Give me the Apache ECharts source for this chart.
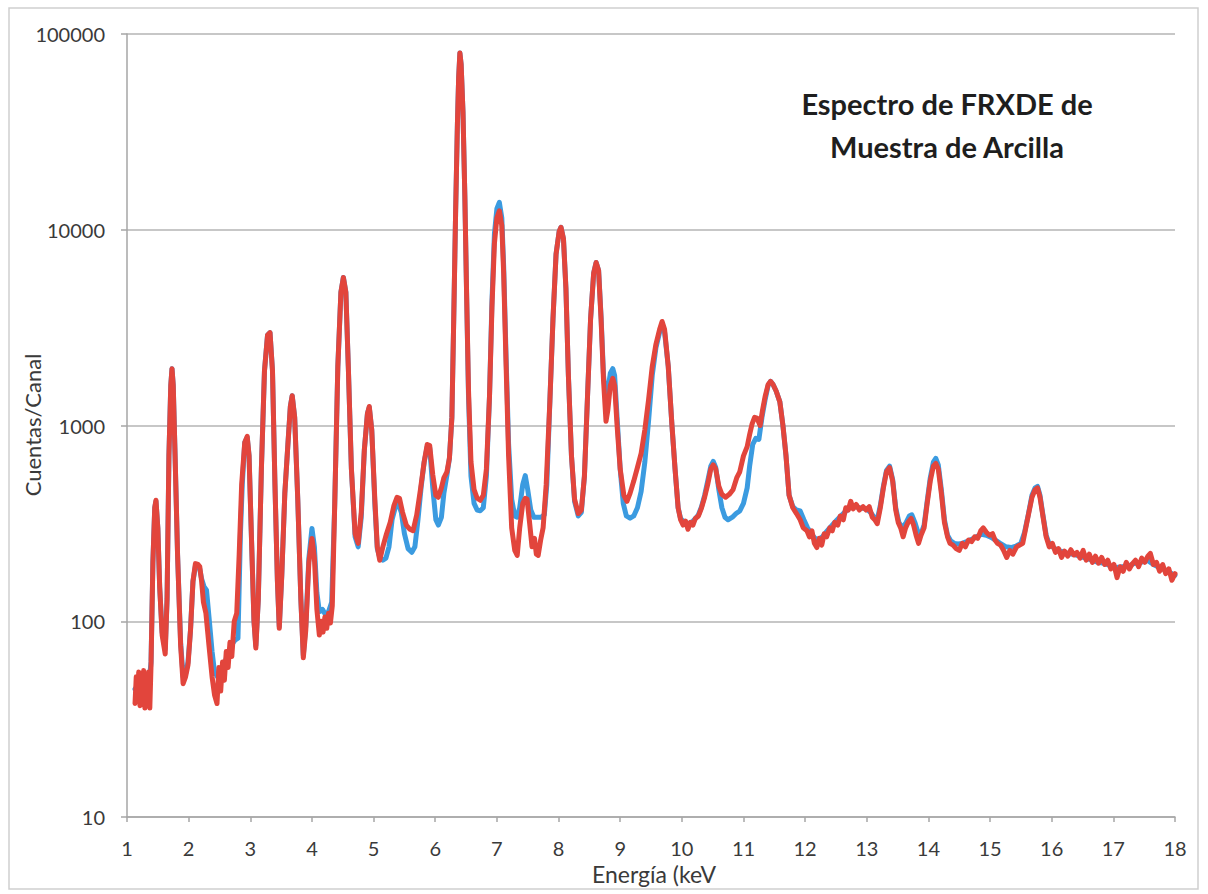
<!DOCTYPE html>
<html>
<head>
<meta charset="utf-8">
<title>Espectro de FRXDE de Muestra de Arcilla</title>
<script src="https://cdn.jsdelivr.net/npm/echarts@6/dist/echarts.min.js"></script>
<style>
  html, body { margin: 0; padding: 0; background: #ffffff; }
  #chart { width: 1208px; height: 894px; }
</style>
</head>
<body>
<div id="chart"></div>
<script>
// Energy axis ticks (keV) and count axis decades
const ticksEnergia = [1, 2, 3, 4, 5, 6, 7, 8, 9, 10, 11, 12, 13, 14, 15, 16, 17, 18];
const ticksCuentas = [10, 100, 1000, 10000, 100000];

// Blue spectrum: energy (keV) and counts per channel
const energiaAzul = [
  1.13, 1.20, 1.27, 1.35, 1.39, 1.42, 1.45, 1.47, 1.50, 1.53, 1.57, 1.62, 1.65, 1.68, 1.71, 1.73, 1.75, 1.78, 1.82, 1.87,
  1.91, 1.95, 1.99, 2.03, 2.07, 2.11, 2.15, 2.18, 2.21, 2.25, 2.29, 2.33, 2.38, 2.42, 2.47, 2.53, 2.59, 2.65, 2.70, 2.75,
  2.80, 2.84, 2.87, 2.91, 2.95, 2.98, 3.02, 3.06, 3.09, 3.13, 3.18, 3.23, 3.28, 3.32, 3.36, 3.40, 3.44, 3.47, 3.51, 3.56,
  3.61, 3.65, 3.68, 3.72, 3.77, 3.82, 3.86, 3.90, 3.95, 4.00, 4.04, 4.08, 4.12, 4.17, 4.22, 4.27, 4.32, 4.37, 4.42, 4.47,
  4.51, 4.55, 4.59, 4.64, 4.70, 4.75, 4.80, 4.85, 4.90, 4.93, 4.97, 5.02, 5.06, 5.10, 5.15, 5.20, 5.25, 5.30, 5.35, 5.40,
  5.45, 5.50, 5.56, 5.62, 5.67, 5.72, 5.77, 5.82, 5.87, 5.91, 5.96, 6.01, 6.05, 6.10, 6.14, 6.19, 6.23, 6.27, 6.30, 6.33,
  6.36, 6.38, 6.40, 6.42, 6.45, 6.48, 6.51, 6.54, 6.58, 6.63, 6.68, 6.73, 6.78, 6.83, 6.88, 6.92, 6.96, 7.00, 7.04, 7.08,
  7.11, 7.15, 7.19, 7.24, 7.29, 7.33, 7.37, 7.42, 7.46, 7.50, 7.55, 7.60, 7.66, 7.72, 7.77, 7.81, 7.86, 7.91, 7.96, 8.01,
  8.04, 8.08, 8.12, 8.16, 8.21, 8.26, 8.32, 8.37, 8.42, 8.47, 8.52, 8.57, 8.61, 8.65, 8.69, 8.73, 8.77, 8.80, 8.84, 8.88,
  8.91, 8.95, 9.00, 9.05, 9.10, 9.16, 9.22, 9.28, 9.34, 9.40, 9.46, 9.52, 9.58, 9.64, 9.68, 9.72, 9.78, 9.84, 9.89, 9.94,
  9.98, 10.04, 10.10, 10.16, 10.22, 10.27, 10.32, 10.37, 10.42, 10.47, 10.51, 10.55, 10.60, 10.65, 10.70, 10.75, 10.82, 10.88, 10.94, 11.00,
  11.06, 11.10, 11.15, 11.20, 11.25, 11.30, 11.35, 11.40, 11.44, 11.48, 11.53, 11.59, 11.64, 11.69, 11.74, 11.80, 11.86, 11.92, 11.98, 12.04,
  12.10, 12.16, 12.22, 12.28, 12.34, 12.40, 12.46, 12.52, 12.58, 12.64, 12.70, 12.76, 12.82, 12.88, 12.94, 13.00, 13.06, 13.12, 13.17, 13.22,
  13.27, 13.32, 13.37, 13.42, 13.47, 13.52, 13.58, 13.64, 13.69, 13.73, 13.78, 13.83, 13.88, 13.93, 13.98, 14.03, 14.08, 14.12, 14.16, 14.21,
  14.26, 14.31, 14.36, 14.42, 14.48, 14.55, 14.62, 14.70, 14.78, 14.86, 14.94, 15.02, 15.10, 15.18, 15.26, 15.34, 15.42, 15.50, 15.56, 15.62,
  15.68, 15.73, 15.77, 15.81, 15.86, 15.91, 15.96, 16.05, 16.15, 16.25, 16.35, 16.45, 16.55, 16.65, 16.75, 16.85, 16.95, 17.05, 17.15, 17.25,
  17.35, 17.45, 17.55, 17.65, 17.75, 17.85, 17.95, 18.00
];
const cuentasAzul = [
  45, 48, 46, 46, 62, 200, 380, 410, 300, 150, 88, 72, 130, 700, 1600, 1950, 1600, 700, 220, 78,
  52, 54, 62, 90, 160, 192, 190, 185, 165, 150, 144, 105, 70, 55, 52, 56, 62, 70, 76, 80,
  82, 280, 500, 820, 870, 700, 260, 100, 75, 130, 600, 1900, 2900, 2980, 1900, 500, 160, 94, 170, 450,
  800, 1250, 1420, 1100, 420, 130, 67, 95, 210, 298, 240, 140, 112, 115, 108, 112, 125, 400, 2000, 4800,
  5700, 4800, 2000, 600, 270, 240, 340, 750, 1150, 1240, 950, 400, 235, 212, 205, 210, 240, 330, 380, 400,
  360, 280, 235, 225, 240, 330, 480, 650, 780, 770, 480, 330, 310, 340, 450, 560, 680, 1100, 3500, 12000,
  35000, 60000, 80000, 70000, 40000, 15000, 4500, 1400, 550, 400, 370, 367, 380, 550, 1400, 4300, 9500, 12800, 13800, 11500,
  6500, 2200, 800, 420, 345, 340, 380, 500, 555, 470, 370, 340, 340, 340, 350, 500, 1340, 3500, 7500, 9800,
  10300, 9000, 5000, 1800, 700, 410, 345, 360, 550, 1400, 3500, 6000, 6800, 6200, 3600, 1800, 1350, 1500, 1850, 1950,
  1800, 1100, 600, 400, 345, 336, 345, 380, 460, 650, 1050, 1800, 2500, 3000, 3300, 3000, 2000, 1000, 600, 380,
  335, 320, 315, 320, 335, 350, 385, 440, 520, 620, 655, 610, 470, 380, 340, 330, 340, 355, 366, 400,
  480, 620, 800, 860, 850, 1100, 1350, 1600, 1680, 1620, 1500, 1320, 1000, 700, 440, 385, 370, 366, 330, 300,
  280, 265, 262, 270, 285, 300, 315, 330, 345, 360, 375, 385, 385, 380, 378, 375, 360, 340, 330, 390,
  490, 590, 620, 530, 380, 320, 300, 320, 345, 350, 320, 285, 280, 310, 410, 540, 650, 680, 630, 470,
  330, 275, 258, 250, 248, 250, 255, 262, 270, 278, 275, 268, 258, 248, 240, 238, 242, 250, 285, 350,
  440, 480, 488, 440, 345, 275, 248, 235, 228, 222, 220, 215, 210, 205, 200, 198, 192, 188, 190, 192,
  198, 200, 205, 195, 188, 182, 175, 172
];

// Red spectrum: energy (keV) and counts per channel
const energiaRoja = [
  1.13, 1.15, 1.17, 1.19, 1.21, 1.23, 1.25, 1.27, 1.29, 1.31, 1.33, 1.35, 1.37, 1.39, 1.42, 1.45, 1.47, 1.50, 1.53, 1.57,
  1.62, 1.65, 1.68, 1.71, 1.73, 1.75, 1.78, 1.82, 1.87, 1.91, 1.95, 1.99, 2.03, 2.07, 2.11, 2.15, 2.18, 2.21, 2.24, 2.28,
  2.33, 2.38, 2.42, 2.46, 2.49, 2.52, 2.55, 2.58, 2.61, 2.64, 2.67, 2.70, 2.74, 2.78, 2.82, 2.86, 2.91, 2.95, 2.98, 3.02,
  3.06, 3.09, 3.13, 3.18, 3.23, 3.28, 3.32, 3.36, 3.40, 3.44, 3.47, 3.51, 3.56, 3.61, 3.65, 3.68, 3.72, 3.77, 3.82, 3.86,
  3.90, 3.95, 4.00, 4.04, 4.08, 4.12, 4.15, 4.18, 4.21, 4.24, 4.27, 4.30, 4.33, 4.37, 4.42, 4.47, 4.51, 4.55, 4.59, 4.64,
  4.70, 4.75, 4.80, 4.85, 4.90, 4.93, 4.97, 5.02, 5.06, 5.10, 5.15, 5.21, 5.27, 5.33, 5.38, 5.42, 5.47, 5.53, 5.59, 5.64,
  5.70, 5.76, 5.82, 5.87, 5.91, 5.96, 6.01, 6.05, 6.10, 6.14, 6.19, 6.23, 6.27, 6.30, 6.33, 6.36, 6.38, 6.40, 6.42, 6.45,
  6.48, 6.51, 6.54, 6.58, 6.63, 6.68, 6.73, 6.78, 6.83, 6.88, 6.92, 6.96, 7.00, 7.04, 7.08, 7.11, 7.15, 7.19, 7.24, 7.29,
  7.33, 7.37, 7.42, 7.46, 7.49, 7.53, 7.57, 7.61, 7.64, 7.67, 7.71, 7.75, 7.80, 7.86, 7.91, 7.96, 8.01, 8.04, 8.08, 8.12,
  8.16, 8.21, 8.26, 8.32, 8.37, 8.42, 8.47, 8.52, 8.57, 8.61, 8.65, 8.69, 8.73, 8.77, 8.80, 8.84, 8.88, 8.91, 8.95, 9.00,
  9.06, 9.11, 9.16, 9.22, 9.28, 9.34, 9.40, 9.46, 9.52, 9.58, 9.64, 9.68, 9.72, 9.78, 9.84, 9.89, 9.94, 9.98, 10.02, 10.06,
  10.10, 10.14, 10.18, 10.22, 10.27, 10.32, 10.37, 10.42, 10.47, 10.51, 10.55, 10.60, 10.65, 10.71, 10.77, 10.83, 10.89, 10.94, 11.00, 11.06,
  11.10, 11.14, 11.18, 11.22, 11.27, 11.31, 11.35, 11.40, 11.44, 11.48, 11.53, 11.59, 11.64, 11.69, 11.74, 11.80, 11.86, 11.92, 11.97, 12.03,
  12.07, 12.11, 12.15, 12.19, 12.23, 12.27, 12.31, 12.35, 12.40, 12.44, 12.48, 12.53, 12.57, 12.62, 12.66, 12.70, 12.74, 12.78, 12.83, 12.88,
  12.94, 12.99, 13.04, 13.09, 13.13, 13.17, 13.22, 13.27, 13.32, 13.37, 13.42, 13.47, 13.51, 13.55, 13.59, 13.63, 13.67, 13.72, 13.76, 13.80,
  13.84, 13.88, 13.93, 13.98, 14.03, 14.08, 14.12, 14.16, 14.21, 14.26, 14.31, 14.35, 14.40, 14.45, 14.50, 14.55, 14.60, 14.65, 14.70, 14.75,
  14.80, 14.85, 14.89, 14.94, 14.99, 15.04, 15.08, 15.12, 15.17, 15.22, 15.27, 15.32, 15.37, 15.43, 15.48, 15.53, 15.58, 15.63, 15.68, 15.73,
  15.77, 15.81, 15.86, 15.91, 15.96, 16.01, 16.06, 16.11, 16.16, 16.21, 16.26, 16.31, 16.36, 16.41, 16.46, 16.51, 16.56, 16.61, 16.66, 16.71,
  16.76, 16.81, 16.86, 16.91, 16.96, 17.01, 17.06, 17.11, 17.16, 17.21, 17.26, 17.31, 17.36, 17.41, 17.46, 17.51, 17.56, 17.60, 17.65, 17.70,
  17.75, 17.80, 17.85, 17.90, 17.95, 18.00
];
const cuentasRoja = [
  38, 52, 40, 55, 37, 54, 42, 56, 36, 53, 39, 55, 36, 60, 200, 380, 415, 300, 150, 85,
  68, 130, 700, 1600, 1950, 1600, 700, 220, 75, 48, 52, 60, 90, 160, 197, 195, 190, 160, 125, 110,
  75, 52, 42, 38, 58, 44, 62, 50, 70, 58, 78, 66, 100, 110, 220, 500, 820, 880, 700, 260,
  100, 73, 130, 600, 1900, 2900, 2980, 1900, 500, 160, 92, 170, 450, 800, 1250, 1420, 1100, 420, 130, 65,
  90, 200, 265, 210, 115, 85, 100, 88, 105, 92, 110, 98, 120, 400, 2000, 4800, 5700, 4800, 2000, 600,
  280, 250, 360, 750, 1150, 1250, 950, 420, 240, 205, 240, 280, 320, 390, 430, 425, 360, 310, 295, 290,
  350, 470, 650, 800, 790, 560, 440, 430, 480, 540, 580, 680, 1100, 3500, 12000, 35000, 60000, 80000, 70000, 40000,
  15000, 4500, 1500, 650, 470, 425, 415, 440, 600, 1400, 4000, 8500, 11500, 12500, 10500, 6000, 2000, 700, 300, 230,
  217, 300, 400, 425, 420, 320, 240, 265, 220, 217, 260, 300, 500, 1340, 3500, 7500, 9800, 10300, 9000, 5000,
  1800, 700, 420, 355, 370, 550, 1400, 3500, 6000, 6800, 6200, 3500, 1700, 1050, 1200, 1600, 1740, 1600, 1000, 600,
  440, 410, 450, 520, 610, 720, 950, 1350, 2000, 2600, 3100, 3400, 3100, 2000, 1000, 600, 380, 330, 310, 325,
  295, 320, 310, 335, 345, 380, 430, 500, 600, 630, 600, 490, 445, 430, 445, 470, 540, 580, 700, 780,
  900, 1020, 1100, 1090, 1000, 1200, 1400, 1620, 1680, 1620, 1500, 1320, 1000, 700, 440, 380, 355, 330, 300, 290,
  270, 290, 250, 238, 265, 245, 280, 270, 300, 290, 320, 310, 345, 330, 380, 370, 410, 375, 395, 370,
  385, 370, 385, 340, 330, 315, 380, 480, 580, 610, 520, 370, 320, 300, 270, 300, 320, 335, 310, 275,
  250, 275, 300, 400, 520, 620, 640, 600, 450, 320, 270, 250, 245, 235, 230, 250, 240, 260, 255, 270,
  265, 290, 300, 285, 275, 280, 260, 250, 245, 230, 212, 230, 220, 240, 245, 250, 300, 360, 430, 470,
  480, 430, 340, 270, 240, 250, 225, 235, 212, 228, 215, 232, 218, 225, 210, 230, 205, 220, 200, 215,
  198, 212, 195, 205, 185, 195, 167, 190, 180, 200, 185, 197, 205, 190, 210, 200, 215, 222, 195, 200,
  180, 195, 175, 185, 162, 175
];

const serieAzul = energiaAzul.map((e, i) => [e, cuentasAzul[i]]);
const serieRoja = energiaRoja.map((e, i) => [e, cuentasRoja[i]]);

const colorTexto = '#3a3a3a';
const colorEje = '#a6a6a6';
const fuente = 'Lato, "Open Sans", sans-serif';

const chart = echarts.init(document.getElementById('chart'), null, { renderer: 'svg' });

chart.setOption({
  animation: false,
  backgroundColor: '#ffffff',
  grid: { left: 127, right: 33, top: 34, bottom: 77, containLabel: false },
  xAxis: {
    type: 'value',
    min: ticksEnergia[0],
    max: ticksEnergia[ticksEnergia.length - 1],
    interval: 1,
    axisLine: { show: true, lineStyle: { color: colorEje, width: 1.5 } },
    axisTick: { show: true, length: 5, lineStyle: { color: colorEje, width: 1.5 } },
    axisLabel: { color: colorTexto, fontSize: 20, fontFamily: fuente, margin: 21 },
    splitLine: { show: false }
  },
  yAxis: {
    type: 'log',
    logBase: 10,
    min: ticksCuentas[0],
    max: ticksCuentas[ticksCuentas.length - 1],
    axisLine: { show: true, lineStyle: { color: colorEje, width: 1.5 } },
    axisTick: { show: true, length: 6, lineStyle: { color: colorEje, width: 1.5 } },
    axisLabel: {
      color: colorTexto, fontSize: 20, fontFamily: fuente, margin: 22,
      formatter: (v) => String(Math.round(v))
    },
    splitLine: { show: true, lineStyle: { color: '#b4b4b4', width: 1.5 } },
    minorTick: { show: false },
    minorSplitLine: { show: false }
  },
  series: [
    {
      name: 'Azul',
      type: 'line',
      data: serieAzul,
      showSymbol: false,
      symbol: 'none',
      lineStyle: { color: '#3b9be0', width: 5, cap: 'round', join: 'round' },
      z: 2
    },
    {
      name: 'Roja',
      type: 'line',
      data: serieRoja,
      showSymbol: false,
      symbol: 'none',
      lineStyle: { color: '#e2453c', width: 5, cap: 'round', join: 'round' },
      z: 3
    }
  ],
  graphic: [
    {
      type: 'rect',
      shape: { x: 9, y: 8, width: 1189, height: 881 },
      style: { fill: 'none', stroke: '#cfcfcf', lineWidth: 1.5 },
      silent: true
    },
    {
      type: 'text',
      x: 947,
      y: 103,
      style: {
        text: 'Espectro de FRXDE de',
        fill: '#1e1e1e',
        font: 'bold 29px ' + fuente,
        textAlign: 'center',
        textVerticalAlign: 'middle'
      }
    },
    {
      type: 'text',
      x: 947,
      y: 146,
      style: {
        text: 'Muestra de Arcilla',
        fill: '#1e1e1e',
        font: 'bold 29px ' + fuente,
        textAlign: 'center',
        textVerticalAlign: 'middle'
      }
    },
    {
      type: 'text',
      x: 654,
      y: 874,
      style: {
        text: 'Energía (keV',
        fill: colorTexto,
        font: '23px ' + fuente,
        textAlign: 'center',
        textVerticalAlign: 'middle'
      }
    },
    {
      type: 'text',
      x: 32,
      y: 425,
      rotation: Math.PI / 2,
      style: {
        text: 'Cuentas/Canal',
        fill: colorTexto,
        font: '22px ' + fuente,
        textAlign: 'center',
        textVerticalAlign: 'middle'
      }
    }
  ]
});
</script>
</body>
</html>
